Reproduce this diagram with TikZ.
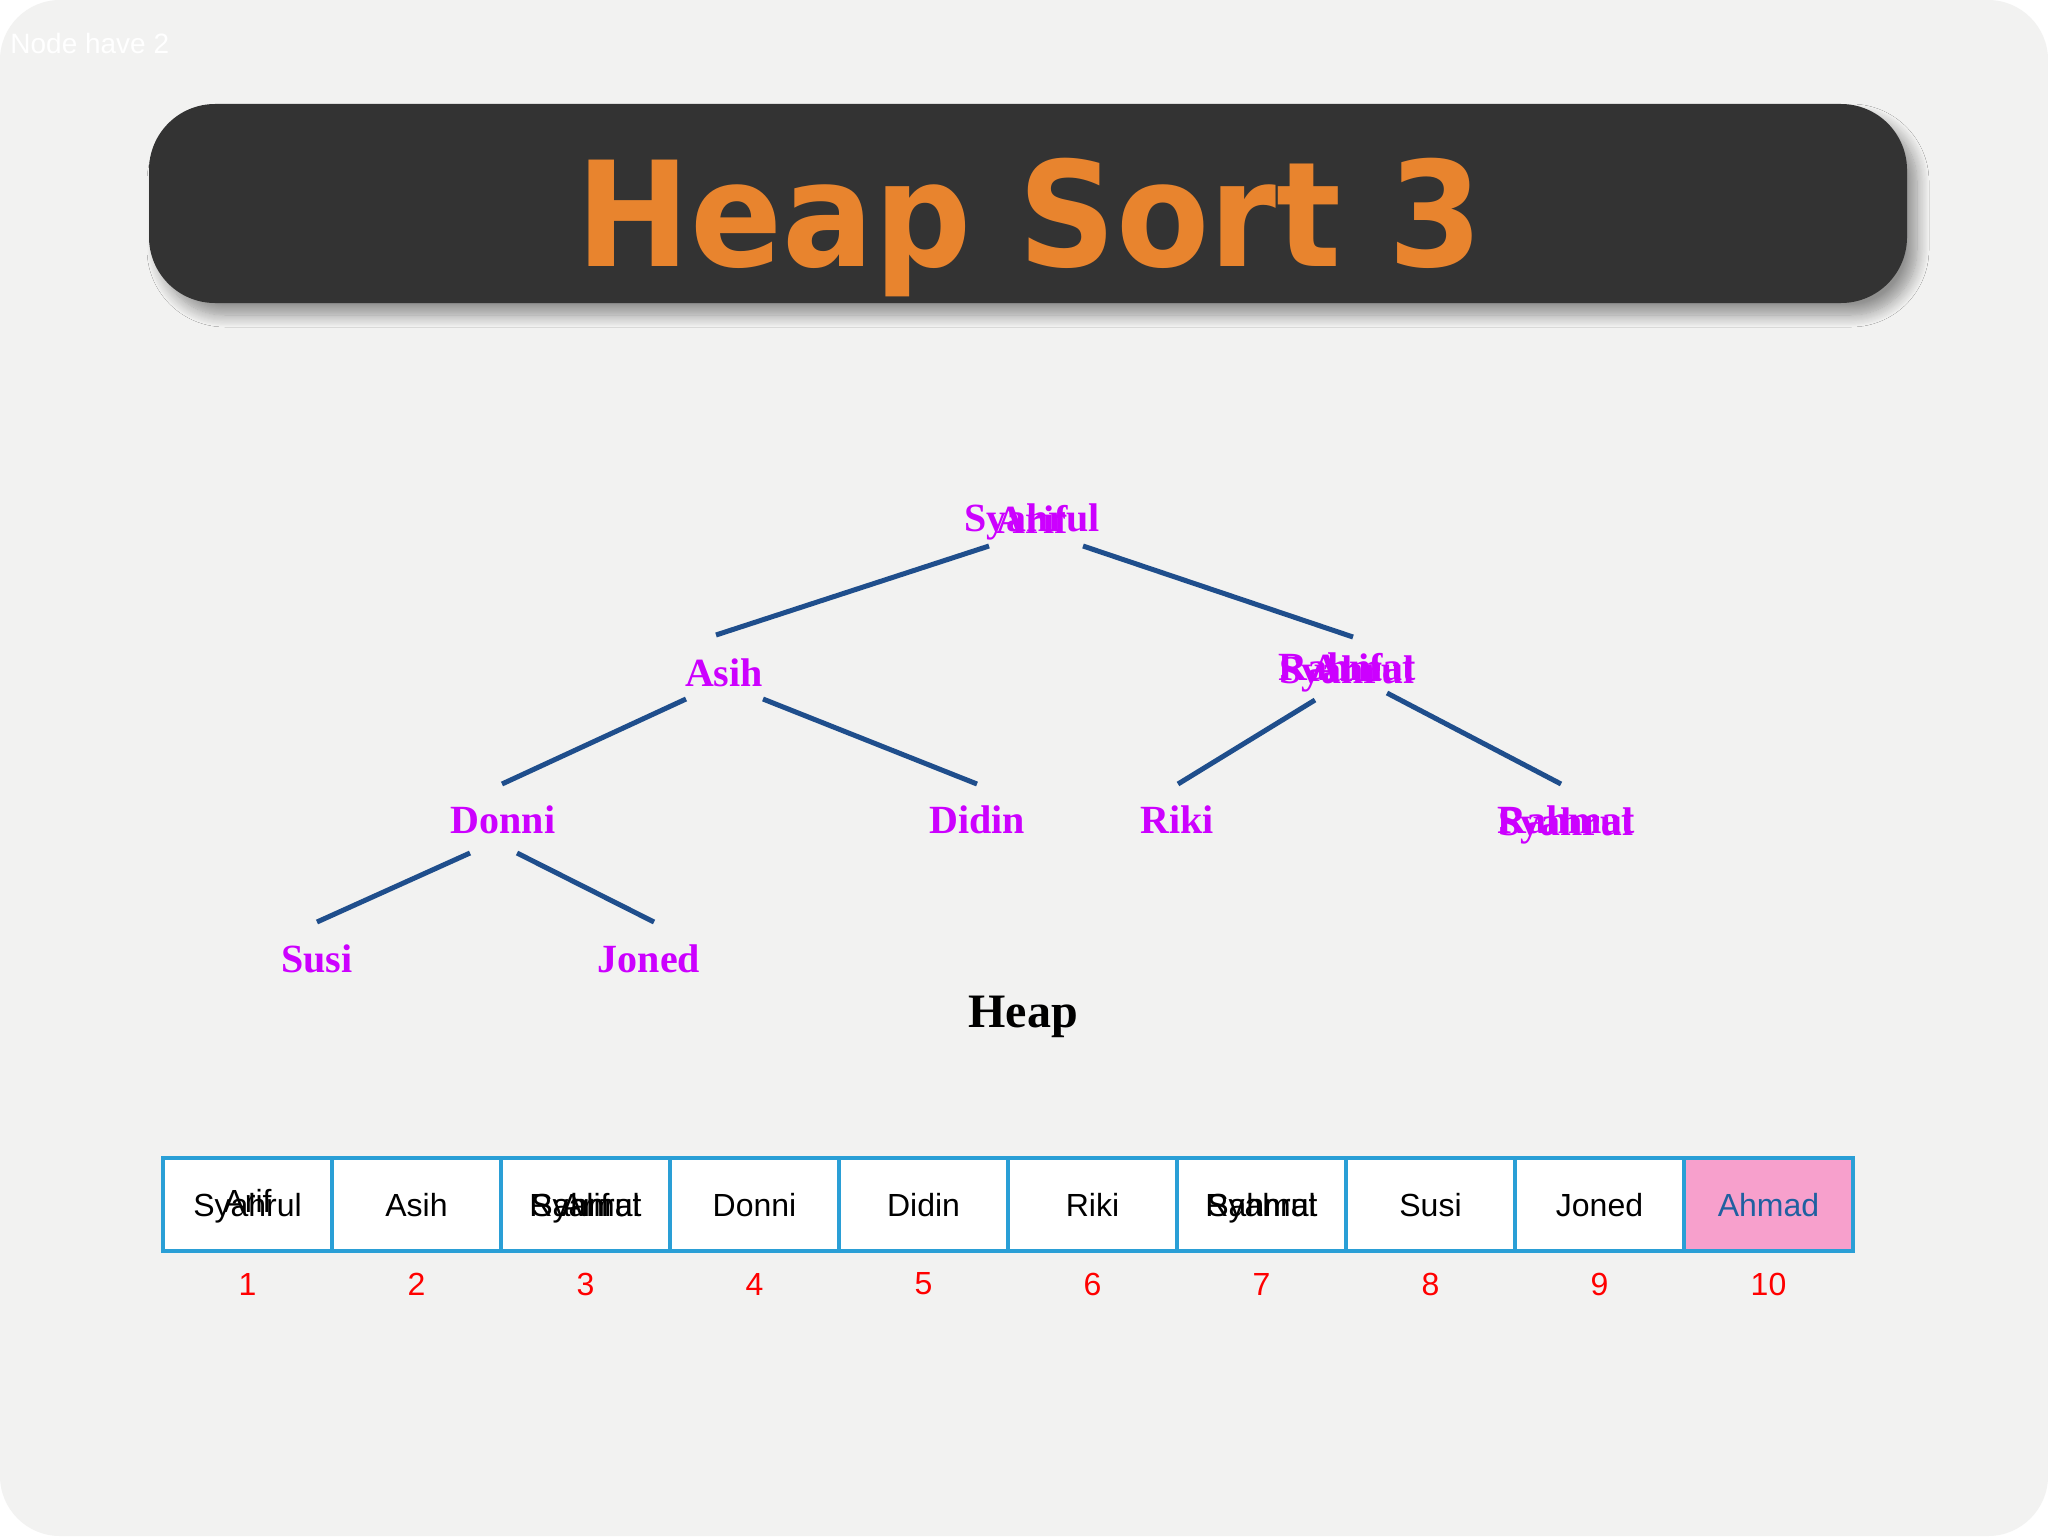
\documentclass[tikz,border=0pt]{standalone}
\usepackage{fontspec}
\setmainfont{Liberation Serif}
\newfontfamily\arialf{Liberation Sans}
\newfontfamily\titlef{DejaVu Sans}
\usetikzlibrary{shadows.blur}
\definecolor{bg}{HTML}{F2F2F1}
\definecolor{tbox}{HTML}{333333}
\definecolor{torange}{HTML}{E8842E}
\definecolor{mag}{HTML}{CC00FF}
\definecolor{edge}{HTML}{1F4E8C}
\definecolor{cellb}{HTML}{2A9FD6}
\definecolor{pinkc}{HTML}{F7A0CC}
\definecolor{bluet}{HTML}{2060A0}
\tikzset{
  tn/.style={text=mag,font=\fontsize{20}{22}\selectfont\bfseries,inner sep=0pt,text height=14pt,text depth=4.5pt,yshift=-2pt},
  ed/.style={draw=edge,line width=2.5pt},
  ctext/.style={font=\arialf\fontsize{16}{18}\selectfont,inner sep=0pt,text height=12pt,text depth=3.5pt},
  cell/.style={ctext,draw=cellb,line width=2pt,fill=white,minimum width=84.5pt,minimum height=46.5pt},
  idx/.style={text=red,font=\arialf\fontsize{16}{18}\selectfont,inner sep=0pt},
}
\begin{document}
\begin{tikzpicture}[x=0.5pt,y=-0.5pt]
\useasboundingbox (0,0) rectangle (2048,1536);
\fill[white] (0,0) rectangle (2048,1536);
\fill[bg,rounded corners=30] (0,0) rectangle (2048,1536);
\node[anchor=west,text=white,font=\arialf\fontsize{14}{16}\selectfont,inner sep=0pt] (nh) at (10,43) {Node have 2};
% title
\node[fill=tbox,rounded corners=33,minimum width=879pt,minimum height=99.5pt,inner sep=0pt,
  blur shadow={shadow xshift=5pt,shadow yshift=-6pt,shadow blur steps=12,shadow blur radius=6pt}] (tb) at (1028,203.5) {};
\node[text=torange,font=\titlef\bfseries\fontsize{73}{80}\selectfont,xscale=0.93,anchor=base] (tt) at (1030,266) {Heap Sort 3};
% tree
\node[tn] (r1) at (1032,518) {Syahrul};
\node[tn] (r2) at (1032,520) {Arif};
\node[tn] (a) at (724,673) {Asih};
\node[tn] (q1) at (1347,667) {Rahmat};
\node[tn] (q2) at (1347,670) {Syahrul};
\node[tn] (q3) at (1347,668) {Arif};
\node[tn] (d) at (503,820) {Donni};
\node[tn] (di) at (977,820) {Didin};
\node[tn] (ri) at (1177,820) {Riki};
\node[tn] (ra1) at (1566,820) {Rahmat};
\node[tn] (ra2) at (1566,822) {Syahrul};
\node[tn] (s) at (317,959) {Susi};
\node[tn] (j) at (649,959) {Joned};
\node[font=\fontsize{24}{26}\selectfont\bfseries,inner sep=0pt] (hp) at (1023,1017) {Heap};
\coordinate (e1a) at (989,546); \coordinate (e1b) at (716,635);
\coordinate (e2a) at (1083,546); \coordinate (e2b) at (1353,637);
\coordinate (e3a) at (686,699); \coordinate (e3b) at (502,784);
\coordinate (e4a) at (763,699); \coordinate (e4b) at (977,784);
\coordinate (e5a) at (1315,700); \coordinate (e5b) at (1178,784);
\coordinate (e6a) at (1387,693); \coordinate (e6b) at (1561,784);
\coordinate (e7a) at (470,853); \coordinate (e7b) at (317,922);
\coordinate (e8a) at (517,853); \coordinate (e8b) at (654,922);
\foreach \a in {1,...,8} {\draw[ed] (e\a a) -- (e\a b);}
% array
\foreach \i/\t in {1/Syahrul,2/Asih,3/Rahmat,4/Donni,5/Didin,6/Riki,7/Rahmat,8/Susi,9/Joned} {
  \node[cell,text depth=0pt] (c\i) at ({163+169*(\i-0.5)},1204.5) {\t};
  \node[idx] (n\i) at ({163+169*(\i-0.5)},1284) {\i};
}
\node[cell,text depth=0pt,fill=pinkc,text=bluet] (c10) at ({163+169*9.5},1204.5) {Ahmad};
\node[idx] (n10) at ({163+169*9.5},1284) {10};
\node[ctext,text depth=0pt] (x1) at ([yshift=2pt]c1.center) {Arif};
\node[ctext,text depth=0pt] (x3a) at (c3.center) {Syahrul};
\node[ctext,text depth=0pt] (x3b) at (c3.center) {Arif};
\node[ctext,text depth=0pt] (x7) at (c7.center) {Syahrul};
\end{tikzpicture}
\end{document}
